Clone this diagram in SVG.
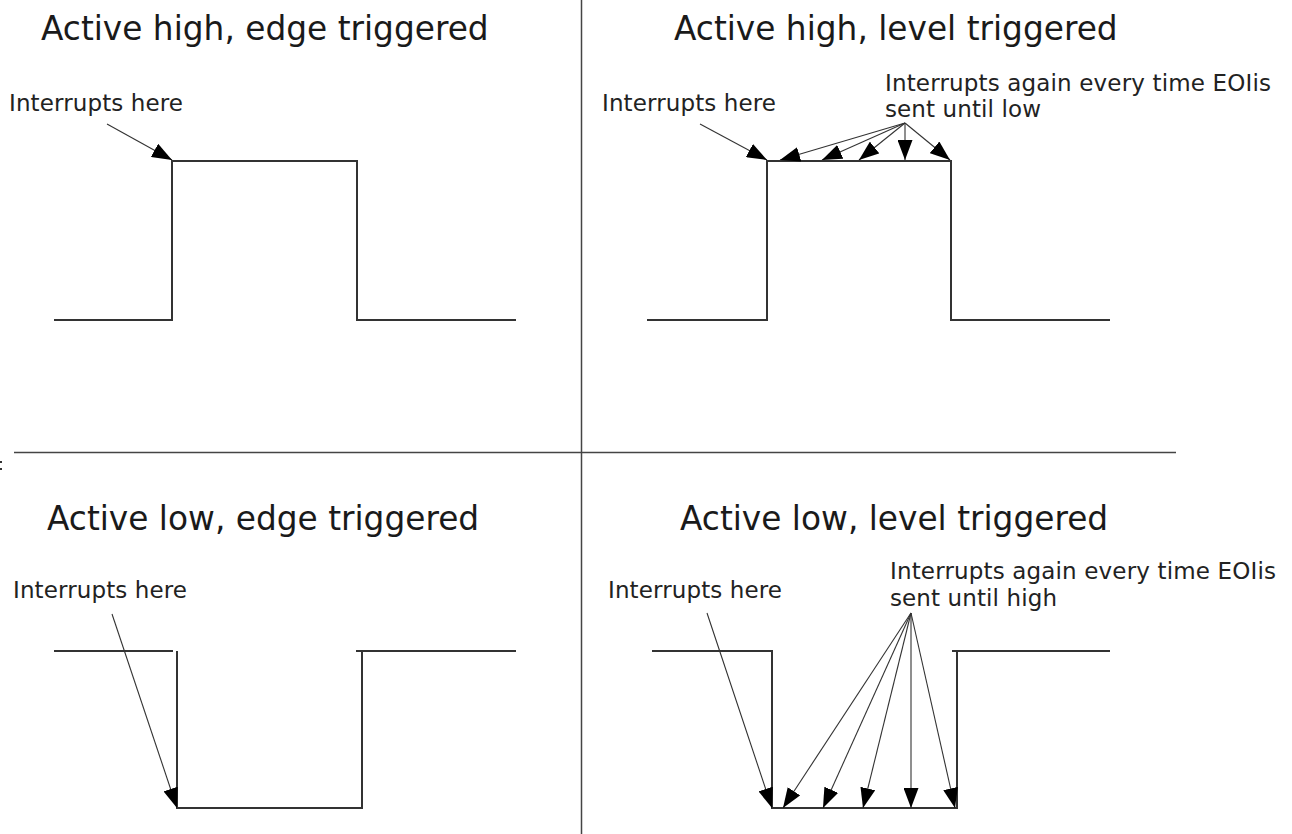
<svg xmlns="http://www.w3.org/2000/svg" width="1292" height="834" viewBox="0 0 1292 834">
<style>
.title{font-family:"DejaVu Sans",sans-serif;font-size:32.8px;fill:#1a1a1a}
.lbl{font-family:"DejaVu Sans",sans-serif;font-size:23px;fill:#222}
.wave{fill:none;stroke:#333;stroke-width:2;stroke-linecap:square}
.arr{fill:none;stroke:#333;stroke-width:1.1;marker-end:url(#ah)}
.div{stroke:#444;stroke-width:1.5;fill:none}
</style>
<defs>
<marker id="ah" markerUnits="userSpaceOnUse" markerWidth="20" markerHeight="15" refX="20" refY="7.5" orient="auto">
<path d="M0,0 L20,7.5 L0,15 z" fill="#000"/>
</marker>
</defs>
<rect width="1292" height="834" fill="#fff"/>
<g id="dividers">
<line class="div" x1="581.5" y1="0" x2="581.5" y2="834"/>
<line class="div" x1="14" y1="452.5" x2="1176" y2="452.5"/>
<rect x="0" y="461" width="2" height="2" fill="#333"/>
<rect x="0" y="468" width="2" height="2" fill="#333"/>
</g>
<g id="panel-high-edge">
<text class="title" x="41" y="40">Active high, edge triggered</text>
<text class="lbl" x="9" y="111" textLength="174">Interrupts here</text>
<path class="wave" d="M55,320 H172 V161 H357 V320 H515"/>
</g>
<g id="panel-high-level">
<text class="title" x="674" y="40">Active high, level triggered</text>
<text class="lbl" x="602" y="111" textLength="174">Interrupts here</text>
<text class="lbl" x="885" y="91" textLength="386">Interrupts again every time EOIis</text>
<text class="lbl" x="885" y="117" textLength="156">sent until low</text>
<path class="wave" d="M648,320 H767 V161 H951 V320 H1109"/>
</g>
<g id="panel-low-edge">
<text class="title" x="47" y="530">Active low, edge triggered</text>
<text class="lbl" x="13" y="598" textLength="174">Interrupts here</text>
<path class="wave" d="M55,651 H172"/>
<path class="wave" d="M177,652 V808 H362 V651 M357,651 H515"/>
</g>
<g id="panel-low-level">
<text class="title" x="680" y="530">Active low, level triggered</text>
<text class="lbl" x="608" y="598" textLength="174">Interrupts here</text>
<text class="lbl" x="890" y="579" textLength="386">Interrupts again every time EOIis</text>
<text class="lbl" x="890" y="606" textLength="167">sent until high</text>
<path class="wave" d="M653,651 H772 V808 H957 V651 M953,651 H1109"/>
</g>
<g id="connectors">
<line class="arr" x1="107" y1="124" x2="172" y2="160"/>
<line class="arr" x1="700" y1="124" x2="767" y2="160"/>
<line class="arr" x1="905" y1="123" x2="780" y2="160"/>
<line class="arr" x1="905" y1="123" x2="822" y2="160"/>
<line class="arr" x1="905" y1="123" x2="859" y2="160"/>
<line class="arr" x1="905" y1="123" x2="905" y2="160"/>
<line class="arr" x1="905" y1="123" x2="950" y2="160"/>
<line class="arr" x1="112" y1="614" x2="177" y2="808"/>
<line class="arr" x1="707" y1="613" x2="772" y2="808"/>
<line class="arr" x1="911" y1="613" x2="783" y2="808"/>
<line class="arr" x1="911" y1="613" x2="823" y2="808"/>
<line class="arr" x1="911" y1="613" x2="863" y2="808"/>
<line class="arr" x1="911" y1="613" x2="911" y2="808"/>
<line class="arr" x1="911" y1="613" x2="955" y2="808"/>
</g>
</svg>
